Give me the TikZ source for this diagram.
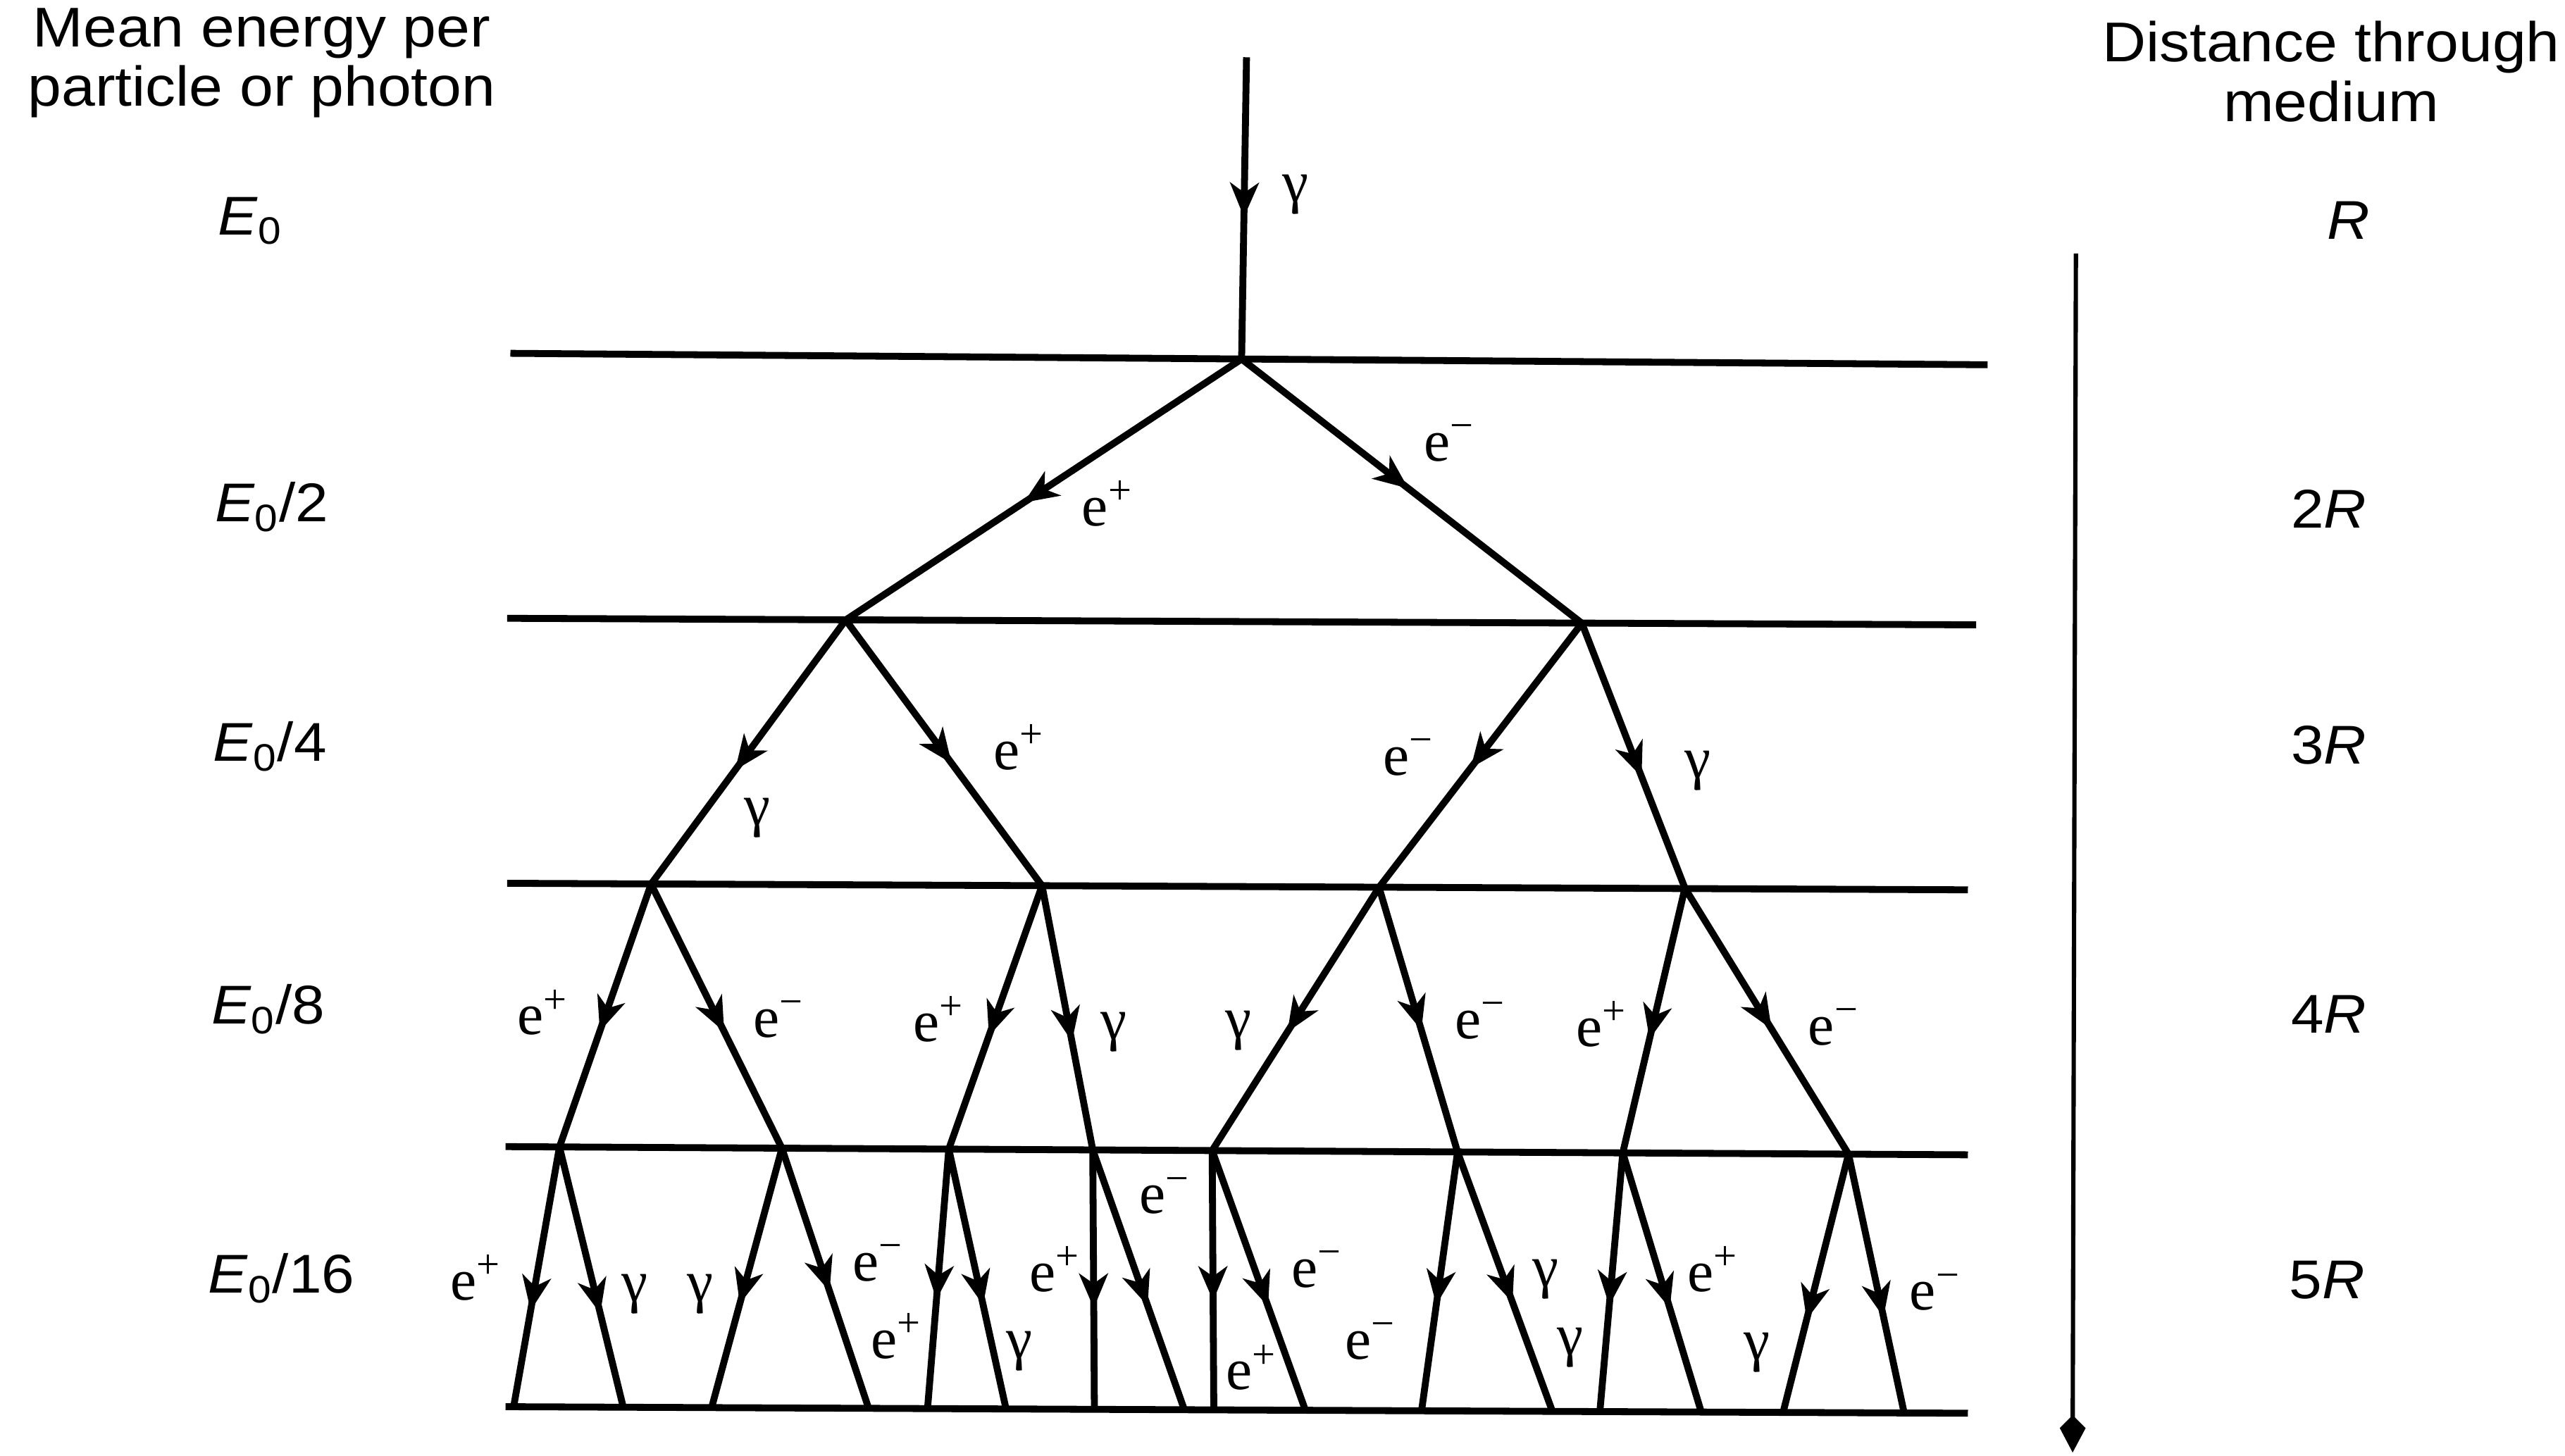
\documentclass[tikz,border=0pt]{standalone}
\usepackage{fontspec}
\setmainfont{Liberation Serif}
\newfontfamily\hdfont[FakeStretch=1.08]{Liberation Sans}
\usetikzlibrary{arrows.meta,decorations.markings}
\tikzset{
  layerline/.style={line width=2.4pt},
  track/.style={line width=2.4pt},
  arrtip/.style={postaction={decorate},
    decoration={markings, mark=at position #1 with {\arrow{Stealth[length=12pt,width=10pt,inset=3.5pt]}}}},
  plab/.style={font=\fontsize{20.5}{24}\selectfont, inner sep=0pt},
  hlab/.style={font=\hdfont\fontsize{19.5}{20.8}\selectfont, inner sep=0pt},
  elab/.style={font=\hdfont\fontsize{19}{20.8}\selectfont, inner sep=0pt, anchor=base west},
  rlab/.style={font=\hdfont\fontsize{19}{20.8}\selectfont, inner sep=0pt, anchor=base east},
}
\newcommand{\posi}{e\textsuperscript{+}}
\newcommand{\elec}{e\textsuperscript{−}}
\newcommand{\phot}{γ}
\begin{document}
\begin{tikzpicture}[x=0.02cm, y=-0.02cm]
\useasboundingbox (0,0) rectangle (1568,890);

% layer lines
\coordinate (L1w) at (312,216); \coordinate (L1e) at (1215,223);
\coordinate (L2w) at (310,378); \coordinate (L2e) at (1208,382);
\coordinate (L3w) at (310,540); \coordinate (L3e) at (1203,544);
\coordinate (L4w) at (309,701); \coordinate (L4e) at (1203,706);
\coordinate (L5w) at (309,860); \coordinate (L5e) at (1203,864);
\foreach \i in {1,...,5} \draw[layerline] (L\i w) -- (L\i e);

% vertices
\coordinate (src) at (762,35);
\coordinate (v) at (759,219.5);
\coordinate (a) at (517,379);  \coordinate (b) at (967,381);
\coordinate (aa) at (398,540.5); \coordinate (ab) at (637,541.5);
\coordinate (ba) at (843,542.5); \coordinate (bb) at (1030,543);
\coordinate (aaa) at (342,701.2); \coordinate (aab) at (478,702);
\coordinate (aba) at (580,702.5); \coordinate (abb) at (668,703);
\coordinate (baa) at (741,703.4); \coordinate (bab) at (891,704.3);
\coordinate (bba) at (992,704.8); \coordinate (bbb) at (1130,705.6);
\coordinate (aaa1) at (314,860);  \coordinate (aaa2) at (381,860.3);
\coordinate (aab1) at (435,860.6); \coordinate (aab2) at (531,861);
\coordinate (aba1) at (567,861.2); \coordinate (aba2) at (615,861.4);
\coordinate (abb1) at (669,861.6); \coordinate (abb2) at (724,861.9);
\coordinate (baa1) at (742,861.9); \coordinate (baa2) at (798,862.2);
\coordinate (bab1) at (869,862.5); \coordinate (bab2) at (949,862.9);
\coordinate (bba1) at (978,863);   \coordinate (bba2) at (1040,863.3);
\coordinate (bbb1) at (1090,863.5); \coordinate (bbb2) at (1164,863.8);

% tracks
\draw[track, arrtip=0.53] (src) -- (v);
\draw[track, arrtip=0.55] (v) -- (a);
\draw[track, arrtip=0.49] (v) -- (b);
\draw[track, arrtip=0.57] (a) -- (aa);
\draw[track, arrtip=0.54] (a) -- (ab);
\draw[track, arrtip=0.55] (b) -- (ba);
\draw[track, arrtip=0.58] (b) -- (bb);
\draw[track, arrtip=0.56] (aa) -- (aaa);
\draw[track, arrtip=0.56] (aa) -- (aab);
\draw[track, arrtip=0.57] (ab) -- (aba);
\draw[track, arrtip=0.59] (ab) -- (abb);
\draw[track, arrtip=0.55] (ba) -- (baa);
\draw[track, arrtip=0.54] (ba) -- (bab);
\draw[track, arrtip=0.57] (bb) -- (bba);
\draw[track, arrtip=0.53] (bb) -- (bbb);
\draw[track, arrtip=0.63] (aaa) -- (aaa1);
\draw[track, arrtip=0.64] (aaa) -- (aaa2);
\draw[track, arrtip=0.60] (aab) -- (aab1);
\draw[track, arrtip=0.55] (aab) -- (aab2);
\draw[track, arrtip=0.58] (aba) -- (aba1);
\draw[track, arrtip=0.60] (aba) -- (aba2);
\draw[track, arrtip=0.61] (abb) -- (abb1);
\draw[track, arrtip=0.60] (abb) -- (abb2);
\draw[track, arrtip=0.58] (baa) -- (baa1);
\draw[track, arrtip=0.60] (baa) -- (baa2);
\draw[track, arrtip=0.59] (bab) -- (bab1);
\draw[track, arrtip=0.58] (bab) -- (bab2);
\draw[track, arrtip=0.59] (bba) -- (bba1);
\draw[track, arrtip=0.60] (bba) -- (bba2);
\draw[track, arrtip=0.64] (bbb) -- (bbb1);
\draw[track, arrtip=0.63] (bbb) -- (bbb2);

% particle labels
\node[plab] (t0) at (792,119) {\phot};
\node[plab] (t1a) at (677,308) {\posi};
\node[plab] (t1b) at (886,271) {\elec};
\node[plab] (t2a) at (463,500) {\phot};
\node[plab] (t2b) at (623,457) {\posi};
\node[plab] (t2c) at (861,463) {\elec};
\node[plab] (t2d) at (1038,471) {\phot};
\node[plab] (t3a) at (332,619) {\posi};
\node[plab] (t3b) at (476,623) {\elec};
\node[plab] (t3c) at (574,623) {\posi};
\node[plab] (t3d) at (681,631) {\phot};
\node[plab] (t3e) at (757,630) {\phot};
\node[plab] (t3f) at (905,624) {\elec};
\node[plab] (t3g) at (979,626) {\posi};
\node[plab] (t3h) at (1121,628) {\elec};
\node[plab] (t4a) at (291,781) {\posi};
\node[plab] (t4b) at (388,791) {\phot};
\node[plab] (t4c) at (428,791) {\phot};
\node[plab] (t4d) at (537,772) {\elec};
\node[plab] (t4e) at (548,817) {\posi};
\node[plab] (t4f) at (623,826) {\phot};
\node[plab] (t4g) at (645,776) {\posi};
\node[plab] (t4h) at (712,731) {\elec};
\node[plab] (t4i) at (805,776) {\elec};
\node[plab] (t4j) at (765,836) {\posi};
\node[plab] (t4k) at (838,820) {\elec};
\node[plab] (t4l) at (945,782) {\phot};
\node[plab] (t4m) at (960,824) {\phot};
\node[plab] (t4n) at (1047,776) {\posi};
\node[plab] (t4o) at (1074,827) {\phot};
\node[plab] (t4p) at (1183,790) {\elec};

% headers
\node[hlab, align=center, anchor=north] (hl) at (160,4.5) {Mean energy per\\particle or photon};
\node[hlab, align=center, anchor=north] (hr) at (1425,12.7) {Distance through\\medium};

% energy labels
\node[elab] (e0) at (133,143.5) {\textit{E}\textsubscript{0}};
\node[elab] (e1) at (131,319) {\textit{E}\textsubscript{0}/2};
\node[elab] (e2) at (130,465.5) {\textit{E}\textsubscript{0}/4};
\node[elab] (e3) at (129,626) {\textit{E}\textsubscript{0}/8};
\node[elab] (e4) at (127,790.5) {\textit{E}\textsubscript{0}/16};

% distance labels
\node[rlab] (r1) at (1449,146) {\textit{R}};
\node[rlab] (r2) at (1447,322.7) {2\textit{R}};
\node[rlab] (r3) at (1447,467) {3\textit{R}};
\node[rlab] (r4) at (1447,631.6) {4\textit{R}};
\node[rlab] (r5) at (1446,794) {5\textit{R}};

% axis arrow
\coordinate (axtop) at (1269,155);
\coordinate (axbot) at (1267,888);
\draw[line width=1.5pt, -{Kite[length=13pt,width=9pt,inset=4.5pt]}] (axtop) -- (axbot);
\end{tikzpicture}
\end{document}
